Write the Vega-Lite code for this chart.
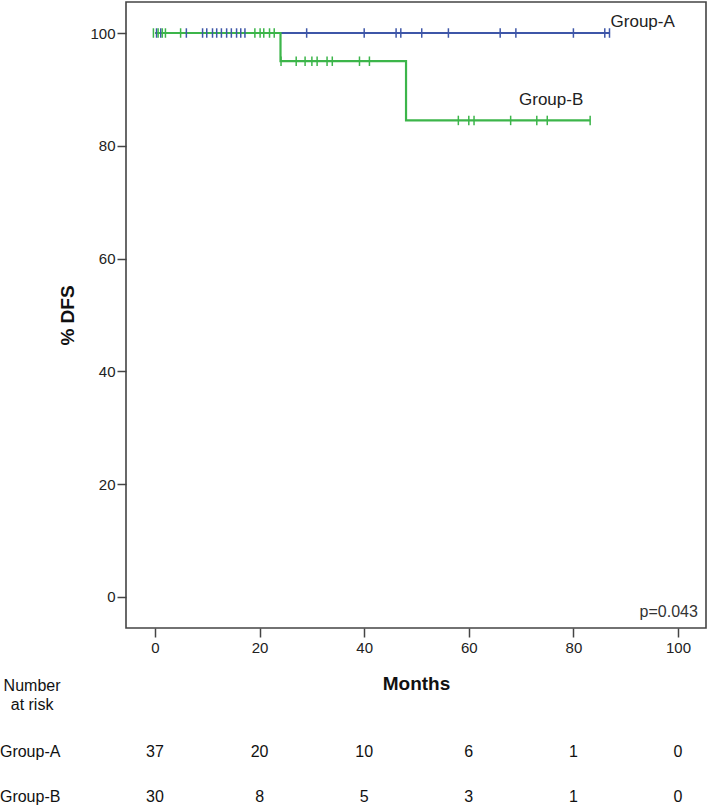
{
  "$schema": "https://vega.github.io/schema/vega-lite/v6.json",
  "width": 580,
  "height": 626,
  "autosize": {"type": "none"},
  "padding": {"left": 126, "top": 2, "right": 3, "bottom": 177},
  "background": "white",
  "config": {
    "view": {"stroke": "#444444", "strokeWidth": 1.6},
    "axis": {
      "domain": false,
      "grid": false,
      "tickColor": "#444444",
      "tickWidth": 1.5,
      "tickSize": 9,
      "labelFont": "Liberation Sans",
      "labelFontSize": 15,
      "labelColor": "#222222",
      "titleFont": "Liberation Sans",
      "titleFontWeight": "bold",
      "titleFontSize": 19,
      "titleColor": "#111111"
    },
    "text": {"font": "Liberation Sans"}
  },
  "datasets": {
    "curves": [
      {"group": "Group-A", "month": 0, "pct": 100},
      {"group": "Group-A", "month": 87, "pct": 100},
      {"group": "Group-B", "month": 0, "pct": 100},
      {"group": "Group-B", "month": 24, "pct": 95},
      {"group": "Group-B", "month": 48, "pct": 84.5},
      {"group": "Group-B", "month": 83.2, "pct": 84.5}
    ],
    "censored": [
      {"group": "Group-A", "month": 0.3, "pct": 100},
      {"group": "Group-A", "month": 1.1, "pct": 100},
      {"group": "Group-A", "month": 6, "pct": 100},
      {"group": "Group-A", "month": 9.1, "pct": 100},
      {"group": "Group-A", "month": 9.9, "pct": 100},
      {"group": "Group-A", "month": 11, "pct": 100},
      {"group": "Group-A", "month": 11.8, "pct": 100},
      {"group": "Group-A", "month": 12.7, "pct": 100},
      {"group": "Group-A", "month": 13.7, "pct": 100},
      {"group": "Group-A", "month": 14.6, "pct": 100},
      {"group": "Group-A", "month": 15.6, "pct": 100},
      {"group": "Group-A", "month": 16.4, "pct": 100},
      {"group": "Group-A", "month": 17.2, "pct": 100},
      {"group": "Group-A", "month": 29, "pct": 100},
      {"group": "Group-A", "month": 40, "pct": 100},
      {"group": "Group-A", "month": 46.1, "pct": 100},
      {"group": "Group-A", "month": 47, "pct": 100},
      {"group": "Group-A", "month": 51, "pct": 100},
      {"group": "Group-A", "month": 56.1, "pct": 100},
      {"group": "Group-A", "month": 66, "pct": 100},
      {"group": "Group-A", "month": 69, "pct": 100},
      {"group": "Group-A", "month": 80, "pct": 100},
      {"group": "Group-A", "month": 86, "pct": 100},
      {"group": "Group-A", "month": 86.9, "pct": 100},
      {"group": "Group-B", "month": -0.3, "pct": 100},
      {"group": "Group-B", "month": 0.6, "pct": 100},
      {"group": "Group-B", "month": 1.4, "pct": 100},
      {"group": "Group-B", "month": 2.0, "pct": 100},
      {"group": "Group-B", "month": 4.9, "pct": 100},
      {"group": "Group-B", "month": 19.1, "pct": 100},
      {"group": "Group-B", "month": 20.1, "pct": 100},
      {"group": "Group-B", "month": 20.8, "pct": 100},
      {"group": "Group-B", "month": 21.9, "pct": 100},
      {"group": "Group-B", "month": 22.8, "pct": 100},
      {"group": "Group-B", "month": 24.1, "pct": 95},
      {"group": "Group-B", "month": 27, "pct": 95},
      {"group": "Group-B", "month": 28.7, "pct": 95},
      {"group": "Group-B", "month": 30, "pct": 95},
      {"group": "Group-B", "month": 31, "pct": 95},
      {"group": "Group-B", "month": 32.9, "pct": 95},
      {"group": "Group-B", "month": 33.9, "pct": 95},
      {"group": "Group-B", "month": 39.1, "pct": 95},
      {"group": "Group-B", "month": 41, "pct": 95},
      {"group": "Group-B", "month": 58, "pct": 84.5},
      {"group": "Group-B", "month": 60, "pct": 84.5},
      {"group": "Group-B", "month": 61, "pct": 84.5},
      {"group": "Group-B", "month": 68, "pct": 84.5},
      {"group": "Group-B", "month": 73, "pct": 84.5},
      {"group": "Group-B", "month": 75, "pct": 84.5},
      {"group": "Group-B", "month": 83.2, "pct": 84.5}
    ],
    "curveLabels": [
      {"month": 87.1, "pct": 102, "text": "Group-A"},
      {"month": 69.6, "pct": 88.1, "text": "Group-B"}
    ],
    "pvalue": [
      {"month": 103.8, "pct": -2.7, "text": "p=0.043"}
    ],
    "riskHeader": [
      {"month": -23.5, "pct": -15.87, "text": "Number\nat risk"}
    ],
    "riskRows": [
      {"month": -29.64, "pct": -27.5, "text": "Group-A"},
      {"month": -29.64, "pct": -35.46, "text": "Group-B"}
    ],
    "riskCounts": [
      {"group": "Group-A", "month": 0, "pct": -27.5, "n": 37},
      {"group": "Group-A", "month": 20, "pct": -27.5, "n": 20},
      {"group": "Group-A", "month": 40, "pct": -27.5, "n": 10},
      {"group": "Group-A", "month": 60, "pct": -27.5, "n": 6},
      {"group": "Group-A", "month": 80, "pct": -27.5, "n": 1},
      {"group": "Group-A", "month": 100, "pct": -27.5, "n": 0},
      {"group": "Group-B", "month": 0, "pct": -35.46, "n": 30},
      {"group": "Group-B", "month": 20, "pct": -35.46, "n": 8},
      {"group": "Group-B", "month": 40, "pct": -35.46, "n": 5},
      {"group": "Group-B", "month": 60, "pct": -35.46, "n": 3},
      {"group": "Group-B", "month": 80, "pct": -35.46, "n": 1},
      {"group": "Group-B", "month": 100, "pct": -35.46, "n": 0}
    ]
  },
  "encoding": {
    "x": {
      "field": "month",
      "type": "quantitative",
      "scale": {"domain": [-5.54, 105.35], "nice": false, "zero": false},
      "axis": {
        "title": "Months",
        "values": [0, 20, 40, 60, 80, 100],
        "labelPadding": 3,
        "titleY": 55,
        "titleBaseline": "middle"
      }
    },
    "y": {
      "field": "pct",
      "type": "quantitative",
      "scale": {"domain": [-5.5, 105.5], "nice": false, "zero": false},
      "axis": {
        "title": "% DFS",
        "values": [0, 20, 40, 60, 80, 100],
        "labelPadding": 2,
        "titleX": -59,
        "titleY": 313,
        "titleAngle": -90,
        "titleAlign": "center",
        "titleBaseline": "middle"
      }
    }
  },
  "layer": [
    {
      "data": {"name": "curves"},
      "mark": {"type": "line", "interpolate": "step-after", "strokeWidth": 2.2},
      "encoding": {
        "color": {
          "field": "group",
          "type": "nominal",
          "scale": {"domain": ["Group-A", "Group-B"], "range": ["#3e56a8", "#3cb54a"]},
          "legend": null
        }
      }
    },
    {
      "data": {"name": "censored"},
      "mark": {"type": "point", "shape": "M0,-1L0,1", "size": 90, "filled": false, "strokeWidth": 1.5, "opacity": 1},
      "encoding": {
        "color": {
          "field": "group",
          "type": "nominal",
          "scale": {"domain": ["Group-A", "Group-B"], "range": ["#3e56a8", "#3cb54a"]},
          "legend": null
        }
      }
    },
    {
      "data": {"name": "curveLabels"},
      "mark": {"type": "text", "align": "left", "baseline": "middle", "fontSize": 17, "color": "#222222"},
      "encoding": {"text": {"field": "text"}}
    },
    {
      "data": {"name": "pvalue"},
      "mark": {"type": "text", "align": "right", "baseline": "middle", "fontSize": 16, "color": "#333333"},
      "encoding": {"text": {"field": "text"}}
    },
    {
      "data": {"name": "riskHeader"},
      "mark": {"type": "text", "align": "center", "baseline": "middle", "fontSize": 16, "lineBreak": "\n", "lineHeight": 19, "color": "#111111"},
      "encoding": {"text": {"field": "text"}}
    },
    {
      "data": {"name": "riskRows"},
      "mark": {"type": "text", "align": "left", "baseline": "middle", "fontSize": 16, "color": "#111111"},
      "encoding": {"text": {"field": "text"}}
    },
    {
      "data": {"name": "riskCounts"},
      "mark": {"type": "text", "align": "center", "baseline": "middle", "fontSize": 16, "color": "#111111"},
      "encoding": {"text": {"field": "n", "type": "quantitative"}}
    }
  ]
}
